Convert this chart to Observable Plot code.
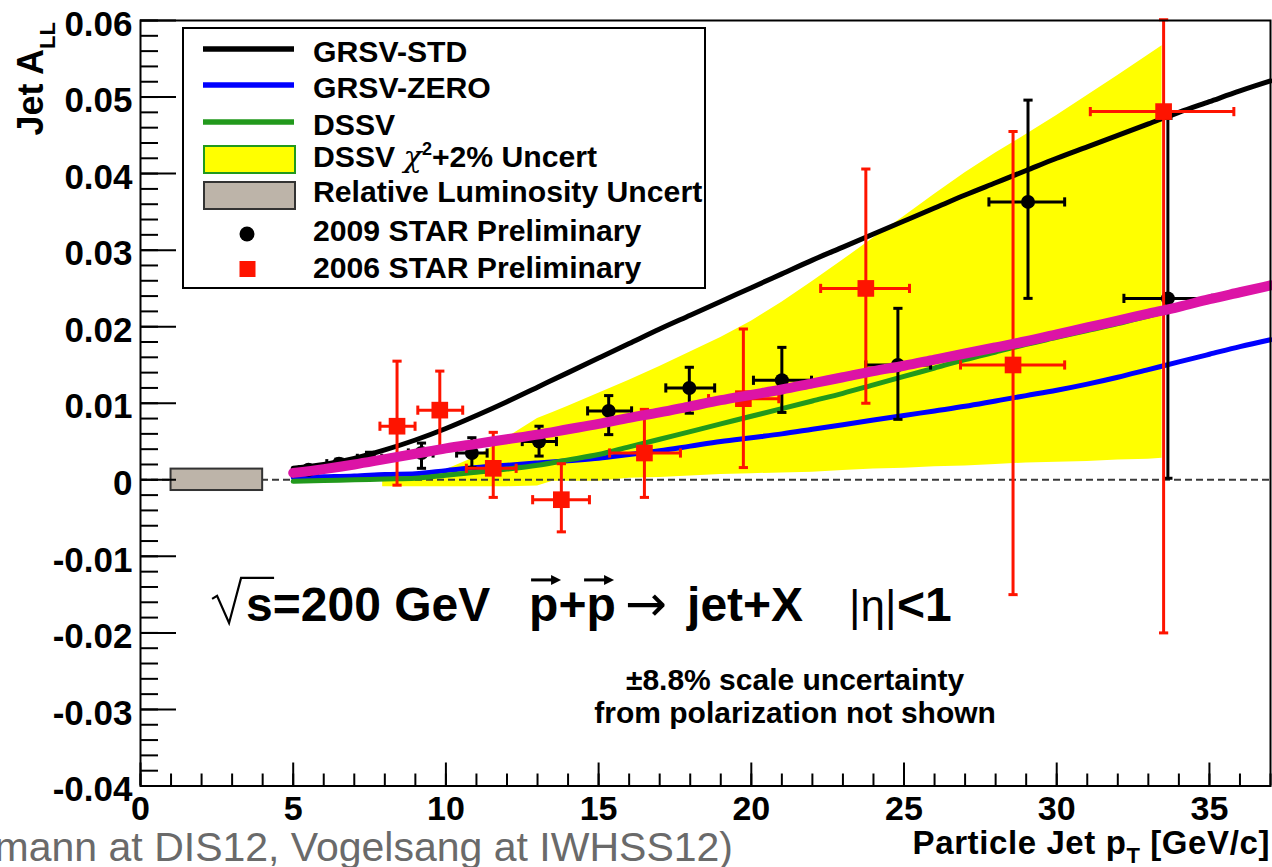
<!DOCTYPE html>
<html><head><meta charset="utf-8">
<script src="https://cdn.jsdelivr.net/npm/d3@7"></script>
<script src="https://cdn.jsdelivr.net/npm/@observablehq/plot@0.6"></script>
<style>
html,body{margin:0;padding:0;background:#fff;overflow:hidden}
svg{display:block}
</style></head><body><div id="chart"></div>
<script>
const FONT = "'Liberation Sans', Arial, Helvetica, sans-serif";

// ---- theory curves (x = particle jet pT) ----
const curveX   = [5,6,7,8,9,10,11,12,13,14,15,16,17,18,19,20,21,22,23,24,25,26,27,28,29,30,31,32,33,34,35,36,37];
const grsvStd  = [0.0015,0.0020,0.0028,0.0039,0.0052,0.0067,0.0084,0.0102,0.0121,0.0140,0.0159,0.0178,0.0197,0.0215,0.0233,0.0251,0.0269,0.0287,0.0304,0.0321,0.0338,0.0355,0.0372,0.0388,0.0404,0.0420,0.0435,0.0450,0.0465,0.0480,0.0494,0.0508,0.0521];
const grsvZero = [0.0003,0.0004,0.0005,0.0007,0.0008,0.0012,0.0016,0.0019,0.0022,0.0025,0.0028,0.0033,0.0038,0.0044,0.0050,0.0055,0.0060,0.0066,0.0072,0.0078,0.0084,0.0090,0.0096,0.0103,0.0110,0.0117,0.0125,0.0134,0.0144,0.0154,0.0164,0.0174,0.0183];
const dssv     = [-0.0002,-0.0001,0.0000,0.0001,0.0002,0.0006,0.0010,0.0014,0.0019,0.0026,0.0033,0.0043,0.0053,0.0063,0.0073,0.0083,0.0093,0.0103,0.0113,0.0124,0.0135,0.0146,0.0157,0.0167,0.0177,0.0186,0.0195,0.0204,0.0214,0.0224,0.0234,0.0244,0.0253];
const dssvNew  = [0.0009,0.0014,0.0020,0.0027,0.0034,0.0041,0.0047,0.0053,0.0059,0.0066,0.0073,0.0081,0.0088,0.0096,0.0104,0.0111,0.0118,0.0126,0.0134,0.0142,0.0149,0.0157,0.0165,0.0173,0.0181,0.0190,0.0199,0.0208,0.0217,0.0226,0.0236,0.0245,0.0254];

// ---- DSSV chi2+2% uncertainty band ----
const bandX    = [7.93,9,10,11,12,13,13.5,14,15,16,17,18,19,20,21,22,23,24,25,26,27,28,29,30,31,32,33,33.45];
const bandHigh = [0.0005,0.0008,0.0013,0.0030,0.0055,0.0080,0.0088,0.0096,0.0113,0.0130,0.0148,0.0167,0.0186,0.0207,0.0232,0.0259,0.0287,0.0316,0.0344,0.0373,0.0401,0.0427,0.0451,0.0476,0.0502,0.0528,0.0555,0.0567];
const bandLow  = [-0.0009,-0.0009,-0.0009,-0.0009,-0.0009,-0.0008,-0.0002,-0.0002,-0.0002,0.0002,0.0003,0.0005,0.0007,0.0008,0.0009,0.0010,0.0012,0.0014,0.0015,0.0017,0.0018,0.0020,0.0022,0.0023,0.0024,0.0026,0.0027,0.0028];

// ---- relative luminosity uncertainty box ----
const lumX = [1, 4];
const lumY = [-0.0014, 0.0014];

// ---- 2009 STAR Preliminary ----
const s09X  = [5.5,6.5,7.5,9.2,10.85,13.05,15.33,17.97,21.0,24.8,29.06,33.64];
const s09Y  = [0.0013,0.0021,0.0028,0.0035,0.0035,0.0050,0.0090,0.0120,0.0130,0.0150,0.0363,0.0237];
const s09Y1 = [0.0008,0.0015,0.0020,0.0015,0.0016,0.0031,0.0059,0.0087,0.0088,0.0079,0.0237,0.0002];
const s09Y2 = [0.0018,0.0027,0.0036,0.0048,0.0055,0.0070,0.0110,0.0147,0.0173,0.0224,0.0496,0.0472];
const s09X1 = [5.2,6.1,7.1,8.77,10.35,12.5,14.64,17.2,20.07,23.75,27.78,32.2];
const s09X2 = [5.8,6.9,7.9,9.58,11.35,13.62,16.08,18.8,21.97,25.87,30.26,35.1];

// ---- 2006 STAR Preliminary ----
const s06X  = [8.4,9.8,11.55,13.78,16.5,19.74,23.75,28.57,33.5];
const s06Y  = [0.0070,0.0091,0.0015,-0.0026,0.0035,0.0106,0.0250,0.0150,0.0481];
const s06Y1 = [-0.0007,0.0040,-0.0023,-0.0068,-0.0023,0.0016,0.0100,-0.0150,-0.0200];
const s06Y2 = [0.0155,0.0142,0.0062,0.0021,0.0092,0.0197,0.0406,0.0455,0.0601];
const s06X1 = [7.84,9.08,10.67,12.84,15.36,18.6,22.27,26.85,31.1];
const s06X2 = [8.99,10.55,12.3,14.7,17.68,20.9,25.18,30.26,35.8];

// ---- axes ----
const yTicks = [-0.04,-0.03,-0.02,-0.01,0,0.01,0.02,0.03,0.04,0.05,0.06];
const yTickLabels = ["-0.04","-0.03","-0.02","-0.01","0","0.01","0.02","0.03","0.04","0.05","0.06"];
const xTicks = [0,5,10,15,20,25,30,35];
const xTickLabels = ["0","5","10","15","20","25","30","35"];
const yMinor = d3.range(0, 51).map(i => -0.04 + i * 0.002);
const xMinor = d3.range(0, 38);

// ---- build tables ----
const curves = curveX.map((x, i) => ({x, std: grsvStd[i], zero: grsvZero[i], dssv: dssv[i], fit: dssvNew[i]}));
const band = bandX.map((x, i) => ({x, lo: bandLow[i], hi: bandHigh[i]}));
const star09 = s09X.map((x, i) => ({x, y: s09Y[i], y1: s09Y1[i], y2: s09Y2[i], x1: s09X1[i], x2: s09X2[i]}));
const star06 = s06X.map((x, i) => ({x, y: s06Y[i], y1: s06Y1[i], y2: s06Y2[i], x1: s06X1[i], x2: s06X2[i]}));
const lum = [{x1: lumX[0], x2: lumX[1], y1: lumY[0], y2: lumY[1]}];

const capH = {draw(ctx, size) { const r = Math.sqrt(size / Math.PI); ctx.moveTo(-r, 0); ctx.lineTo(r, 0); }};
const capV = {draw(ctx, size) { const r = Math.sqrt(size / Math.PI); ctx.moveTo(0, -r); ctx.lineTo(0, r); }};

const RED = "#fe1400", BLUE = "#0000ff", GREEN = "#22991c", MAG = "#dc14a6", YEL = "#ffff00", TAN = "#bdb4a9";

function errMarks(data, color) {
  return [
    Plot.ruleX(data, {x: "x", y1: "y1", y2: "y2", stroke: color, strokeWidth: 3}),
    Plot.ruleY(data, {y: "y", x1: "x1", x2: "x2", stroke: color, strokeWidth: 3}),
    Plot.dot(data, {x: "x", y: "y1", symbol: capH, r: 4.6, stroke: color, strokeWidth: 3, fill: "none"}),
    Plot.dot(data, {x: "x", y: "y2", symbol: capH, r: 4.6, stroke: color, strokeWidth: 3, fill: "none"}),
    Plot.dot(data, {x: "x1", y: "y", symbol: capV, r: 4.6, stroke: color, strokeWidth: 3, fill: "none"}),
    Plot.dot(data, {x: "x2", y: "y", symbol: capV, r: 4.6, stroke: color, strokeWidth: 3, fill: "none"})
  ];
}

const plot = Plot.plot({
  width: 1272, height: 867,
  marginLeft: 140, marginRight: 2, marginTop: 20, marginBottom: 81.5,
  x: {domain: [0, 37]},
  y: {domain: [-0.04, 0.06]},
  style: {fontFamily: FONT, background: "white", color: "black", overflow: "visible"},
  marks: [
    Plot.areaY(band, {x: "x", y1: "lo", y2: "hi", fill: YEL}),
    Plot.ruleY([0], {x1: 0, x2: 37, stroke: "#3a3a3a", strokeWidth: 2, strokeDasharray: "7,4"}),
    Plot.rect(lum, {x1: "x1", x2: "x2", y1: "y1", y2: "y2", fill: TAN, stroke: "#333", strokeWidth: 2}),
    Plot.line(curves, {x: "x", y: "zero", stroke: BLUE, strokeWidth: 5, curve: "monotone-x"}),
    Plot.line(curves, {x: "x", y: "dssv", stroke: GREEN, strokeWidth: 5, curve: "monotone-x"}),
    Plot.line(curves, {x: "x", y: "std", stroke: "black", strokeWidth: 5, curve: "monotone-x"}),
    ...errMarks(star09, "black"),
    Plot.dot(star09, {x: "x", y: "y", r: 7, fill: "black"}),
    ...errMarks(star06, RED),
    Plot.dot(star06, {x: "x", y: "y", symbol: "square", r: 9.4, fill: RED}),
    Plot.line(curves, {x: "x", y: "fit", stroke: MAG, strokeWidth: 10, curve: "monotone-x"}),
    Plot.frame({stroke: "black", strokeWidth: 2}),
    Plot.axisY({ticks: yTicks, tickSize: -36, fill: "none", strokeWidth: 2, label: null}),
    Plot.axisY({ticks: yMinor, tickSize: -18, fill: "none", strokeWidth: 2, label: null}),
    Plot.axisY({ticks: yTicks, tickSize: 0, tickPadding: 8, dy: 4, fontSize: 35, fontWeight: "bold",
      tickFormat: d => yTickLabels[yTicks.findIndex(t => Math.abs(t - d) < 1e-9)], label: null}),
    Plot.axisX({ticks: xTicks, tickSize: -23, fill: "none", strokeWidth: 2, label: null}),
    Plot.axisX({ticks: xMinor, tickSize: -12, fill: "none", strokeWidth: 2, label: null}),
    Plot.axisX({ticks: xTicks, tickSize: 0, tickPadding: 10, fontSize: 34, fontWeight: "bold",
      tickFormat: d => xTickLabels[xTicks.indexOf(d)], label: null})
  ]
});
document.getElementById("chart").appendChild(plot);

// ---- annotations, titles and legend ----
const svg = d3.select(plot);
const sx = plot.scale("x"), sy = plot.scale("y");
const g = svg.append("g").attr("font-family", FONT).attr("fill", "black").attr("text-anchor", "start");

// y-axis title
const yt = g.append("text").attr("transform", "translate(43,22) rotate(-90)").attr("text-anchor", "end").attr("font-weight", "bold");
yt.append("tspan").attr("font-size", 36).text("Jet A");
yt.append("tspan").attr("font-size", 22).attr("dy", 12).text("LL");

// x-axis title
const xt = g.append("text").attr("x", 1270).attr("y", 854).attr("text-anchor", "end").attr("font-weight", "bold").attr("font-size", 33).attr("letter-spacing", 0.6);
xt.append("tspan").text("Particle Jet p");
xt.append("tspan").attr("font-size", 22).attr("dy", 9).text("T");
xt.append("tspan").attr("dy", -9).text(" [GeV/c]");

// process formula
const ax = sx.apply(2.36), ay = sy.apply(-0.0185);
g.append("path").attr("d", `M${ax},${ay-22} l5,-3 l12,27 l12,-45 h33`).attr("fill", "none").attr("stroke", "black").attr("stroke-width", 2.2);
const f = g.append("text").attr("y", ay).attr("font-size", 48).attr("font-weight", "bold");
f.append("tspan").attr("x", ax + 34).text("s=200 GeV");
f.append("tspan").attr("x", ax + 317).text("p+p");
f.append("tspan").attr("x", ax + 413).attr("font-weight", "normal").attr("font-family", "'DejaVu Sans', sans-serif").attr("font-size", 50).text("→");
f.append("tspan").attr("x", ax + 475).text("jet+X");
f.append("tspan").attr("x", ax + 637).attr("font-weight", "normal").attr("font-size", 44).text("|η|");
f.append("tspan").attr("x", ax + 685).text("<1");
for (const px of [ax + 319, ax + 372]) {
  g.append("path").attr("d", `M${px},${ay-41} h24`).attr("stroke", "black").attr("stroke-width", 3);
  g.append("path").attr("d", `M${px+30},${ay-41} l-10,-5 l0,10 z`).attr("fill", "black");
}

// scale uncertainty note
const nx = sx.apply(21.45);
g.append("text").attr("x", nx).attr("y", sy.apply(-0.0275)).attr("text-anchor", "middle").attr("font-size", 30).attr("font-weight", "bold").text("±8.8% scale uncertainty");
g.append("text").attr("x", nx).attr("y", sy.apply(-0.0318)).attr("text-anchor", "middle").attr("font-size", 30).attr("font-weight", "bold").text("from polarization not shown");

// bottom-left caption
g.append("text").attr("x", 733).attr("y", 861).attr("text-anchor", "end").attr("font-size", 41).attr("fill", "#6a6a6a").text("mann at DIS12, Vogelsang at IWHSS12)");

// legend
const L = g.append("g");
L.append("rect").attr("x", 183).attr("y", 28).attr("width", 522).attr("height", 260).attr("fill", "white").attr("stroke", "black").attr("stroke-width", 2);
const lineEntry = (y, c) => L.append("line").attr("x1", 203).attr("x2", 294).attr("y1", y).attr("y2", y).attr("stroke", c).attr("stroke-width", 5.5);
lineEntry(49, "black"); lineEntry(85, BLUE); lineEntry(122, GREEN);
L.append("rect").attr("x", 204).attr("y", 146).attr("width", 91).attr("height", 27).attr("fill", YEL).attr("stroke", GREEN).attr("stroke-width", 2);
L.append("rect").attr("x", 204).attr("y", 182).attr("width", 91).attr("height", 27).attr("fill", TAN).attr("stroke", "#333").attr("stroke-width", 2);
L.append("circle").attr("cx", 247).attr("cy", 234).attr("r", 7.5).attr("fill", "black");
L.append("rect").attr("x", 239.5).attr("y", 261).attr("width", 16).attr("height", 16).attr("fill", RED);
const legTexts = ["GRSV-STD", "GRSV-ZERO", "DSSV", null, "Relative Luminosity Uncert", "2009 STAR Preliminary", "2006 STAR Preliminary"];
const legBase = [62, 98, 135, 167, 202, 241, 278];
legTexts.forEach((t, i) => {
  const tx = L.append("text").attr("x", 313).attr("y", legBase[i]).attr("font-size", 30.2).attr("font-weight", "bold");
  if (t) tx.text(t);
  else {
    tx.append("tspan").text("DSSV ");
    tx.append("tspan").attr("font-weight", "normal").attr("font-family", "'DejaVu Serif', serif").attr("font-style", "italic").text("χ");
    tx.append("tspan").attr("font-size", 18).attr("dy", -12).text("2");
    tx.append("tspan").attr("dy", 12).text("+2% Uncert");
  }
});
</script></body></html>
